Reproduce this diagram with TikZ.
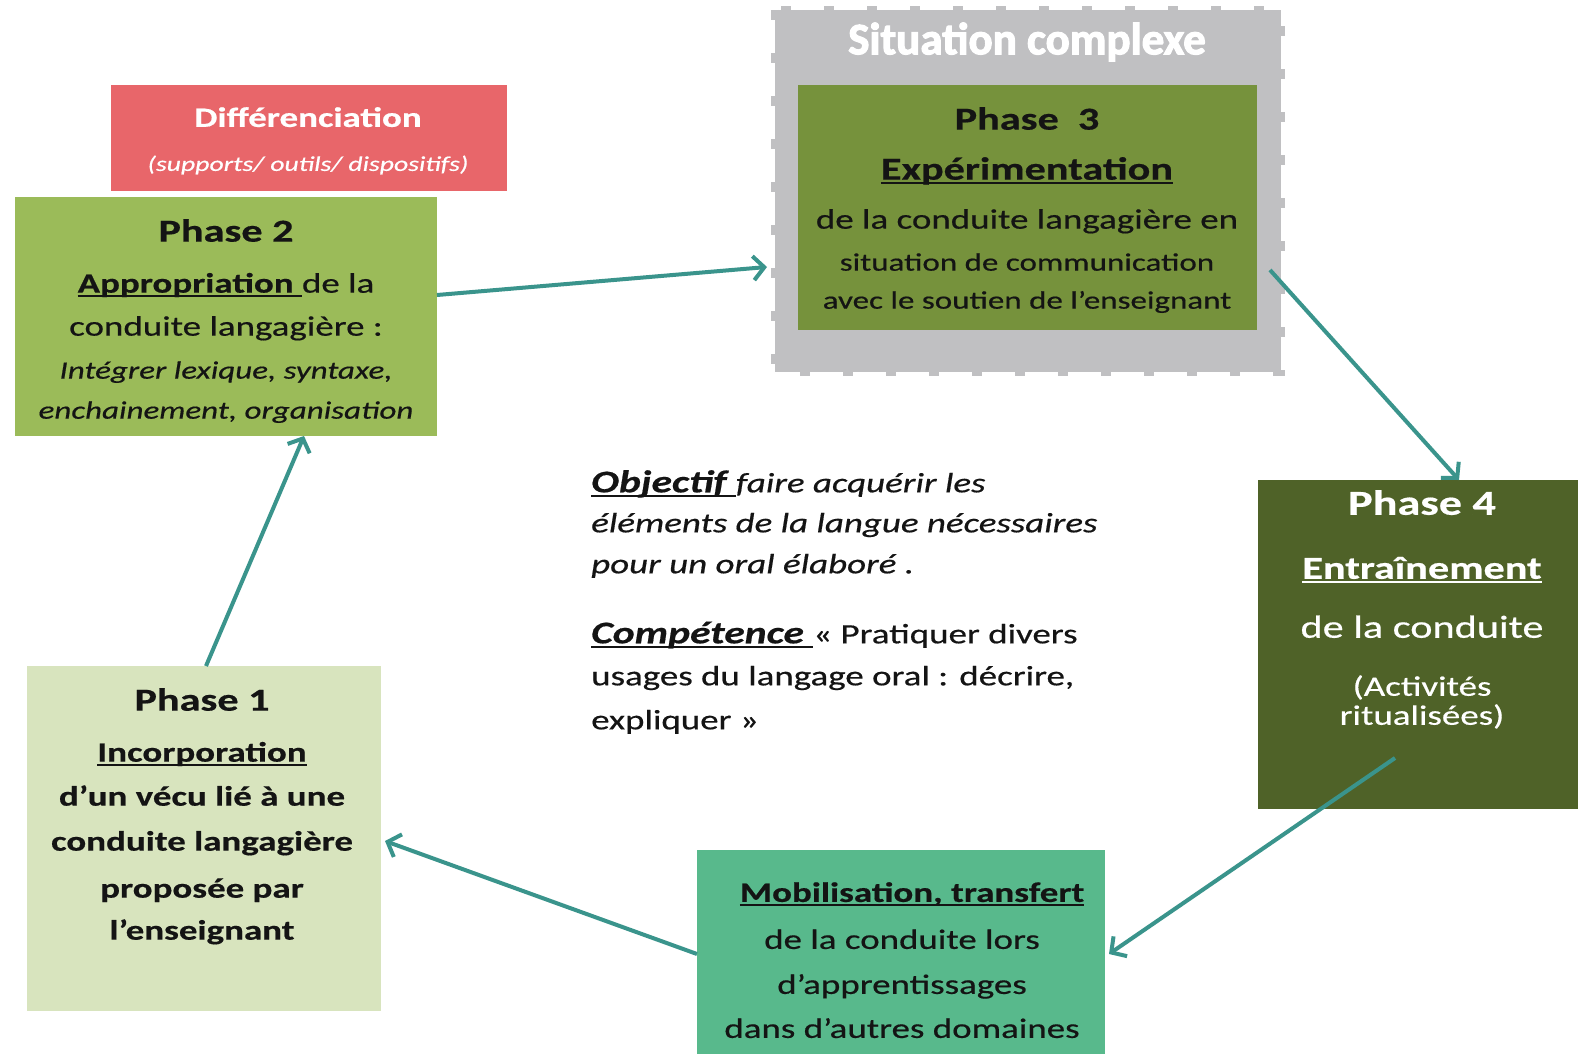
\documentclass[tikz,border=0pt]{standalone}
\usepackage{fontspec}
\setmainfont{Carlito}[FakeStretch=1.32,FakeBold=0.5]
\newfontfamily\headfont{Carlito}[FakeBold=2.5]
\usetikzlibrary{arrows.meta,calc}
\definecolor{diffred}{RGB}{232,102,106}
\definecolor{ph2}{RGB}{155,187,89}
\definecolor{scgray}{RGB}{192,192,194}
\definecolor{ph3}{RGB}{118,146,60}
\definecolor{ph4}{RGB}{79,98,40}
\definecolor{mob}{RGB}{88,185,140}
\definecolor{ph1}{RGB}{216,228,190}
\definecolor{arrc}{RGB}{58,148,140}
\definecolor{ink}{RGB}{20,20,20}
\newcommand\ulx[1]{\setbox0=\hbox{#1}\rlap{\rule[-4.5pt]{\wd0}{2pt}}\box0}
\begin{document}
\begin{tikzpicture}[x=1pt,y=-1pt,
  box/.style={rectangle, inner sep=0pt, outer sep=0pt},
  tx/.style={inner sep=0pt, align=center, text=ink},
  link/.style={draw=arrc, line width=4pt, -{Straight Barb[length=11pt,width=24pt,line width=4pt]}}]
\fill[white] (0,0) rectangle (1578,1054);
\useasboundingbox (0,0) rectangle (1578,1054);

% boxes
\node[box, fill=diffred, minimum width=396pt, minimum height=106pt] (diff) at (309,138) {};
\node[box, fill=ph2, minimum width=422pt, minimum height=239pt] (p2) at (226,316.5) {};
\node[box, fill=scgray, minimum width=506pt, minimum height=362pt] (sc) at (1028,191) {};
\draw[scgray, line width=8pt, dash pattern=on 10pt off 33pt] (sc.north west) rectangle (sc.south east);
\node[box, fill=ph3, minimum width=459pt, minimum height=245pt] (p3) at (1027.5,207.5) {};
\node[box, fill=ph4, minimum width=320pt, minimum height=329pt] (p4) at (1418,644.5) {};
\node[box, fill=mob, minimum width=408pt, minimum height=204pt] (mob) at (901,952) {};
\node[box, fill=ph1, minimum width=354pt, minimum height=345pt] (p1) at (204,838.5) {};

% texts
\node[tx, text=white, anchor=north, font=\fontsize{28}{44}\selectfont] (difft) at (308,107)
  {{\bfseries Différenciation}\\{\fontsize{21}{21}\selectfont\itshape (supports/ outils/ dispositifs)}};

\node[tx, text=white, font=\headfont\bfseries\fontsize{45}{45}\selectfont] (sct) at (1027,42) {Situation complexe};

\node[tx, anchor=north, font=\fontsize{28}{40}\selectfont] (p3t) at (1027,107)
  {{\fontsize{32}{32}\selectfont\bfseries Phase~~3}\\[10pt]
   {\fontsize{32}{32}\selectfont\bfseries\ulx{Expérimentation}}\\[9pt]
   de la conduite langagière en\\[2pt]
   {\fontsize{25}{25}\selectfont situation de communication}\\[-2pt]
   {\fontsize{25}{25}\selectfont avec le soutien de l’enseignant}};

\node[tx, anchor=north, font=\fontsize{28}{42}\selectfont] (p2t) at (226,219)
  {{\fontsize{32}{32}\selectfont\bfseries Phase 2}\\[9pt]
   \ulx{\bfseries Appropriation }de la\\[1pt]
   conduite langagière :\\[1pt]
   {\fontsize{25}{25}\selectfont\itshape Intégrer lexique, syntaxe,}\\[-2pt]
   {\fontsize{25}{25}\selectfont\itshape enchainement, organisation}};

\node[tx, anchor=north, font=\fontsize{28}{45}\selectfont\bfseries] (p1t) at (202,688)
  {{\fontsize{32}{32}\selectfont Phase 1}\\[6pt]
   \ulx{Incorporation}\\[-1pt]
   d’un vécu lié à une\\
   conduite langagière\\[2pt]
   proposée par\\[-3pt]
   l’enseignant};

\node[tx, text=white, anchor=north, font=\fontsize{28}{29}\selectfont] (p4t) at (1422,490)
  {{\fontsize{35}{35}\selectfont\bfseries Phase 4}\\[35pt]
   {\fontsize{32}{32}\selectfont\bfseries\ulx{Entraînement}}\\[30pt]
   {\fontsize{32}{32}\selectfont de la conduite}\\[29pt]
   (Activités\\
   ritualisées)};

\node[tx, anchor=north, font=\fontsize{28}{45}\selectfont] (mobt) at (902,882)
  {\hspace*{20pt}{\bfseries\ulx{Mobilisation, transfert}}\\[2pt]
   de la conduite lors\\
   d’apprentissages\\[-1pt]
   dans d’autres domaines};

\node[tx, align=left, anchor=north west, font=\fontsize{28}{41}\selectfont] (obj) at (591,470)
  {\ulx{\fontsize{31.5}{31.5}\selectfont\bfseries\itshape Objectif }\textit{faire acquérir les}\\[-1pt]
   \textit{éléments de la langue nécessaires}\\
   \textit{pour un oral élaboré .}\\[29pt]
   \ulx{\fontsize{31.5}{31.5}\selectfont\bfseries\itshape Compétence }« Pratiquer divers\\[1pt]
   usages du langage oral : décrire,\\[3pt]
   expliquer »};

% connectors
\draw[link] ($(p2.east)+(0,-21.5)$) -- ($(sc.west)+(-8,76)$);
\draw[link] ($(p3.east)+(13,62.5)$) -- ($(p4.north)+(41,0)$);
\draw[link] ($(p4.center)+(-23,113.5)$) -- ($(mob.east)+(4,2)$);
\draw[link] ($(mob.west)+(0,2)$) -- ($(p1.east)+(4,2.5)$);
\draw[link] ($(p1.north)+(2,0)$) -- ($(p2.south)+(78,0)$);
\end{tikzpicture}
\end{document}
